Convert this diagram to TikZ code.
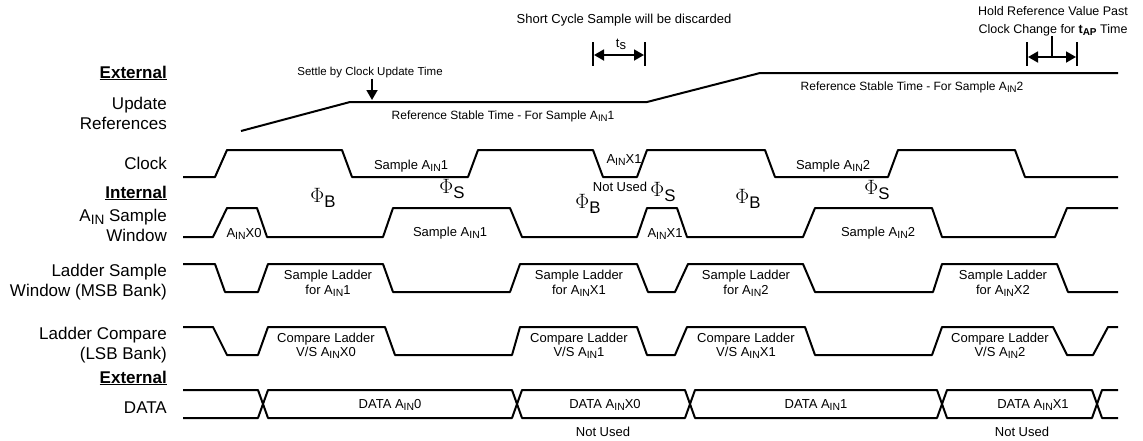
\documentclass[tikz,border=0pt]{standalone}
\usepackage{fontspec}
\setmainfont{Liberation Sans}
\usetikzlibrary{arrows.meta}
\newcommand\ain{A\raisebox{-0.35ex}{\scalebox{0.8}{IN}}}
\newcommand\phase[1]{$\Phi$\raisebox{-0.4ex}{\scalebox{0.8}{#1}}}

\begin{document}
\begin{tikzpicture}[x=1pt, y=-1pt,
	wave/.style={line width=2pt, line join=round},
	lbl/.style={anchor=east, align=right, inner sep=0pt, font=\fontsize{17}{20}\selectfont},
	head/.style={anchor=east, inner sep=0pt, font=\bfseries\fontsize{17}{20}\selectfont},
	note/.style={align=center, inner sep=0pt, font=\fontsize{13}{15}\selectfont},
	phasenode/.style={inner sep=0pt, font=\fontsize{21}{21}\selectfont},
	dimbar/.style={line width=1.8pt},
	dimarrow/.style={line width=1.8pt, {Triangle[length=10pt,width=11pt]}-{Triangle[length=10pt,width=11pt]}}]

	\useasboundingbox (0,0) rectangle (1143,440);

	% Signal names on the left
	\node [head] (extTop) at (167,73) {\underline{External}};
	\node [lbl] (updRef) at (167,113) {Update\\References};
	\node [lbl] (clkName) at (167,163) {Clock};
	\node [head] (intName) at (167,193) {\underline{Internal}};
	\node [lbl] (ainWin) at (167,225) {\ain{} Sample\\Window};
	\node [lbl] (ladSamp) at (167,282) {Ladder Sample\\Window (MSB Bank)};
	\node [lbl] (ladComp) at (167,345) {Ladder Compare\\(LSB Bank)};
	\node [head] (extBot) at (167,378) {\underline{External}};
	\node [lbl] (dataName) at (167,408) {DATA};

	% Update references
	\draw [wave] (241,131) -- (350,102) -- (647,102) -- (760,73) -- (1118,73);
	\node [note, font=\fontsize{12}{14}\selectfont] (refOne) at (503,116) {Reference Stable Time - For Sample \ain1};
	\node [note, font=\fontsize{12}{14}\selectfont] (refTwo) at (912,87) {Reference Stable Time - For Sample \ain2};
	\node [note, font=\fontsize{11.5}{14}\selectfont] (settle) at (370,73) {Settle by Clock Update Time};
	\coordinate (settleTip) at (372,100);
	\draw [line width=1.8pt, -{Triangle[length=10pt,width=11pt]}] (settle.south -| settleTip) -- (settleTip);

	% Short cycle
	\node [note] (shortCyc) at (624,20) {Short Cycle Sample will be discarded};
	\node [note] (tsLabel) at (621,44) {t\raisebox{-0.3ex}{s}};
	\draw [dimbar] (593,42) -- (593,66);
	\draw [dimbar] (645,42) -- (645,66);
	\coordinate (tsL) at (594,55);
	\coordinate (tsR) at (644,55);
	\draw [dimarrow] (tsL) -- (tsR);

	% Hold time
	\node [note, font=\fontsize{12.5}{18}\selectfont] (holdRef) at (1053,21) {Hold Reference Value Past\\Clock Change for \textbf{t\raisebox{-0.35ex}{\scalebox{0.8}{AP}}} Time};
	\draw [dimbar] (1027,42) -- (1027,66);
	\draw [dimbar] (1077,42) -- (1077,66);
	\coordinate (hoL) at (1028,57);
	\coordinate (hoR) at (1076,57);
	\coordinate (hoM) at (1052,57);
	\draw [dimarrow] (hoL) -- (hoR);
	\draw [line width=1.2pt] (holdRef.south -| hoM) -- (hoM);

	% Clock
	\draw [wave] (183,177) -- (215,177) -- (227,150) -- (342,150) -- (352,177) -- (468,177) -- (478,150) -- (593,150) -- (603,177) -- (637,177) -- (647,150) -- (765,150) -- (775,177) -- (888,177) -- (898,150) -- (1015,150) -- (1025,177) -- (1118,177);
	\node [note] (clkSOne) at (411,166) {Sample \ain1};
	\node [note] (clkXOne) at (624,160) {\ain X1};
	\node [note] (notUsedA) at (620,187) {Not Used};
	\node [note] (clkSTwo) at (833,166) {Sample \ain2};

	% Phases
	\node [phasenode] (phB1) at (323,198) {\phase{B}};
	\node [phasenode] (phS1) at (452,189) {\phase{S}};
	\node [phasenode] (phB2) at (588,204) {\phase{B}};
	\node [phasenode] (phS2) at (663,192) {\phase{S}};
	\node [phasenode] (phB3) at (748,199) {\phase{B}};
	\node [phasenode] (phS3) at (877,190) {\phase{S}};

	% AIN sample window
	\draw [wave] (183,237) -- (213,237) -- (227,208) -- (257,208) -- (267,237) -- (383,237) -- (393,208) -- (510,208) -- (522,237) -- (637,237) -- (647,208) -- (677,208) -- (687,237) -- (803,237) -- (815,208) -- (932,208) -- (942,237) -- (1055,237) -- (1067,208) -- (1118,208);
	\node [note] (winXZero) at (244,234) {\ain X0};
	\node [note] (winSOne) at (450,233) {Sample \ain1};
	\node [note] (winXOne) at (665,234) {\ain X1};
	\node [note] (winSTwo) at (878,233) {Sample \ain2};

	% Ladder sample window
	\draw [wave] (183,264) -- (215,264) -- (225,292) -- (258,292) -- (268,264) -- (383,264) -- (393,292) -- (510,292) -- (520,264) -- (637,264) -- (648,292) -- (675,292) -- (688,264) -- (803,264) -- (815,292) -- (933,292) -- (942,264) -- (1057,264) -- (1068,292) -- (1118,292);
	\node [note] (lsOne) at (328,283) {Sample Ladder\\for \ain1};
	\node [note] (lsXOne) at (579,283) {Sample Ladder\\for \ain X1};
	\node [note] (lsTwo) at (746,283) {Sample Ladder\\for \ain2};
	\node [note] (lsXTwo) at (1003,283) {Sample Ladder\\for \ain X2};

	% Ladder compare
	\draw [wave] (183,327) -- (213,327) -- (227,355) -- (258,355) -- (268,327) -- (385,327) -- (395,355) -- (512,355) -- (520,327) -- (637,327) -- (647,355) -- (675,355) -- (687,327) -- (805,327) -- (815,355) -- (932,355) -- (942,327) -- (1053,327) -- (1067,355) -- (1093,355) -- (1108,327) -- (1118,327);
	\node [note, font=\fontsize{13}{14}\selectfont] (lcXZero) at (326,346) {Compare Ladder\\V/S \ain X0};
	\node [note, font=\fontsize{13}{14}\selectfont] (lcOne) at (579,346) {Compare Ladder\\V/S \ain1};
	\node [note, font=\fontsize{13}{14}\selectfont] (lcXOne) at (746,346) {Compare Ladder\\V/S \ain X1};
	\node [note, font=\fontsize{13}{14}\selectfont] (lcTwo) at (1000,346) {Compare Ladder\\V/S \ain2};

	% Data bus
	\draw [wave] (183,390) -- (258,390) -- (268,418) -- (512,418) -- (522,390) -- (685,390) -- (695,418) -- (937,418) -- (947,390) -- (1092,390) -- (1102,418) -- (1118,418);
	\draw [wave] (183,418) -- (258,418) -- (268,390) -- (512,390) -- (522,418) -- (685,418) -- (695,390) -- (937,390) -- (947,418) -- (1092,418) -- (1102,390) -- (1118,390);
	\node [note] (dZero) at (390,405) {DATA \ain0};
	\node [note] (dXZero) at (605,405) {DATA \ain X0};
	\node [note] (dOne) at (816,405) {DATA \ain1};
	\node [note] (dXOne) at (1033,405) {DATA \ain X1};
	\node [note] (notUsedB) at (603,432) {Not Used};
	\node [note] (notUsedC) at (1022,432) {Not Used};

\end{tikzpicture}
\end{document}
